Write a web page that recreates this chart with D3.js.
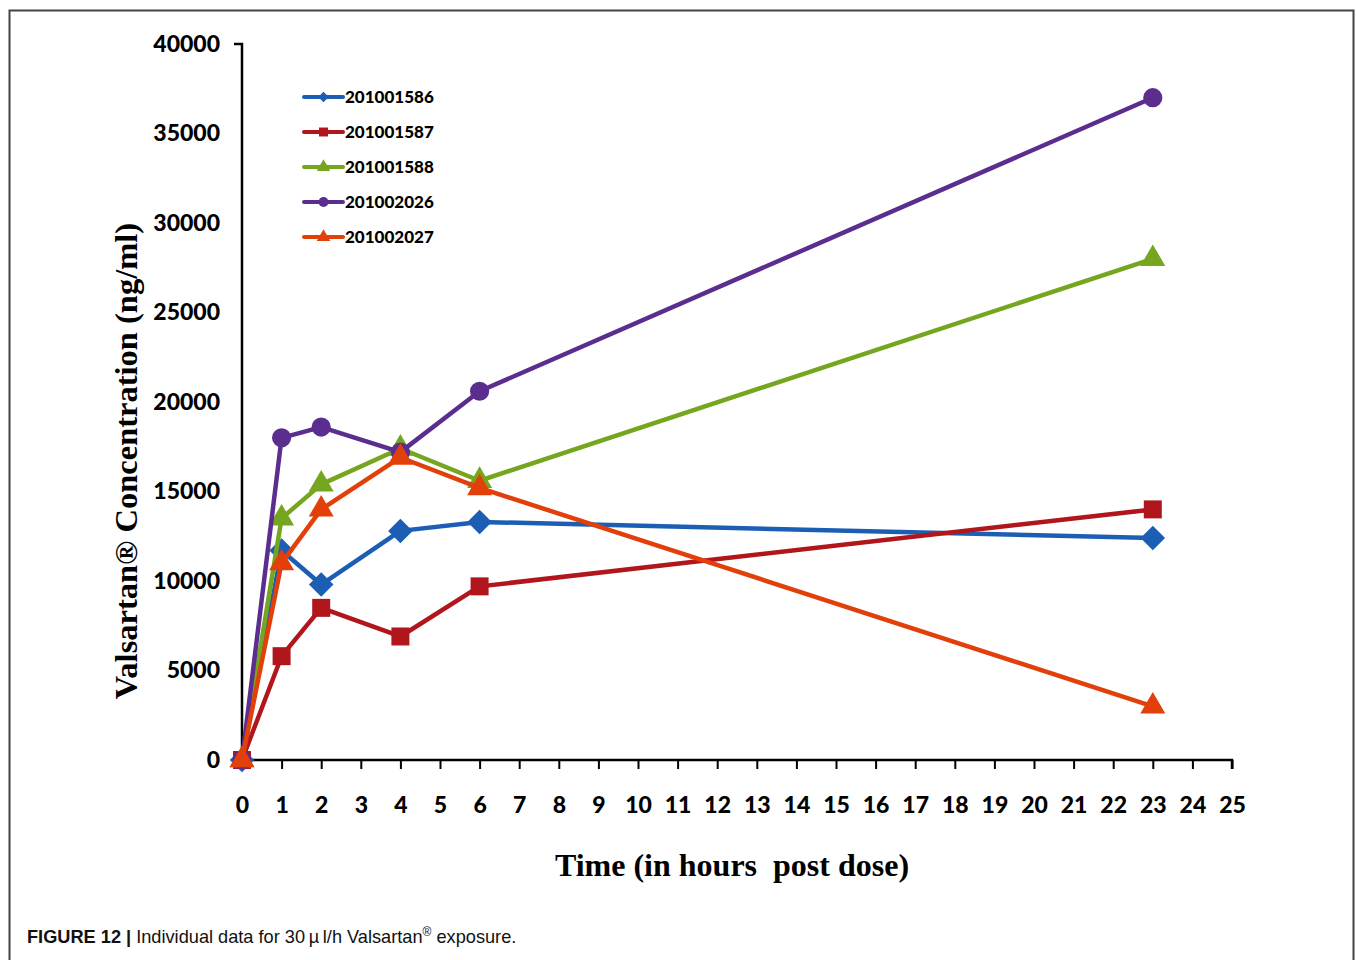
<!DOCTYPE html>
<html>
<head>
<meta charset="utf-8">
<script src="https://cdn.jsdelivr.net/npm/d3@7"></script>
<style>
  body { margin: 0; background: #fff; }
  svg { display: block; }
</style>
</head>
<body>
<script>
// hours post dose
const hours = [0, 1, 2, 4, 6, 23]

const s201001586 = [0, 11700, 9800, 12800, 13300, 12400]
const s201001587 = [0, 5800, 8500, 6900, 9700, 14000]
const s201001588 = [0, 13500, 15400, 17400, 15600, 28000]
const s201002026 = [0, 18000, 18600, 17200, 20600, 37000]
const s201002027 = [0, 11000, 14000, 16900, 15200, 3000]

const seriesNames = ['201001586', '201001587', '201001588', '201002026', '201002027']
const seriesValues = [s201001586, s201001587, s201001588, s201002026, s201002027]
const seriesColors = ['#1b5eb3', '#b0161c', '#76a51f', '#5b2d8e', '#e2400b']
// diamond = square turned 45 degrees
const seriesSymbols = [d3.symbolSquare, d3.symbolSquare, d3.symbolTriangle, d3.symbolCircle, d3.symbolTriangle]
const seriesRotate = [45, 0, 0, 0, 0]

const xTicks = d3.range(0, 26)
const yTicks = [0, 5000, 10000, 15000, 20000, 25000, 30000, 35000, 40000]

const width = 1356, height = 960
const margin = {left: 242, right: 124, top: 44, bottom: 200}

const svg = d3.select('body').append('svg')
  .attr('width', width)
  .attr('height', height)

// frame around the figure
svg.append('path')
  .attr('d', `M9.5,${height} V10.5 H1353.5 V${height}`)
  .attr('fill', 'none')
  .attr('stroke', '#444')
  .attr('stroke-width', 2)

const x = d3.scaleLinear()
  .domain([0, 25])
  .range([margin.left, width - margin.right])

const y = d3.scaleLinear()
  .domain([0, 40000])
  .range([height - margin.bottom, margin.top])

const tickFont = 'Lato, "Open Sans", sans-serif'

const xAxis = g => g
  .attr('transform', `translate(0,${y(0)})`)
  .call(d3.axisBottom(x).tickValues(xTicks).tickSize(9).tickSizeOuter(9).tickPadding(28))
  .call(g => g.select('.domain').attr('stroke-width', 2.5).attr('d', `M${x(0)},0H${x(25)}V9`))
  .call(g => g.selectAll('.tick line').attr('stroke-width', 2))
  .call(g => g.selectAll('.tick text')
    .attr('font-family', tickFont)
    .attr('font-weight', 900)
    .attr('font-size', 23)
    .attr('fill', '#000'))

const yAxis = g => g
  .attr('transform', `translate(${x(0)},0)`)
  .call(d3.axisLeft(y).tickValues(yTicks).tickFormat(d3.format('d')).tickSize(0).tickPadding(22))
  .call(g => g.select('.domain').attr('stroke-width', 2.5).attr('d', `M-8,${y(40000)}H0V${y(0)}`))
  .call(g => g.selectAll('.tick text')
    .attr('font-family', tickFont)
    .attr('font-weight', 900)
    .attr('font-size', 23)
    .attr('fill', '#000'))

svg.append('g').attr('class', 'axis').call(xAxis)
svg.append('g').attr('class', 'axis').call(yAxis)

// axis titles
svg.append('text')
  .attr('x', 732)
  .attr('y', 876)
  .attr('text-anchor', 'middle')
  .attr('font-family', '"Liberation Serif", "Times New Roman", serif')
  .attr('font-weight', 'bold')
  .attr('font-size', 32)
  .text('Time (in hours\u00A0 post dose)')

svg.append('text')
  .attr('transform', `translate(137,461) rotate(-90)`)
  .attr('text-anchor', 'middle')
  .attr('font-family', '"Liberation Serif", "Times New Roman", serif')
  .attr('font-weight', 'bold')
  .attr('font-size', 32.5)
  .text('Valsartan\u00AE Concentration (ng/ml)')

// series
const line = d3.line()
  .x((d, i) => x(hours[i]))
  .y(d => y(d))

const symbolSize = [300, 324, 270, 290, 270]

const series = svg.selectAll('.series')
  .data(seriesNames.map((name, i) => ({name, values: seriesValues[i], color: seriesColors[i],
    symbol: seriesSymbols[i], rot: seriesRotate[i], size: symbolSize[i]})))
  .enter()
  .append('g')
  .attr('class', 'series')

series.append('path')
  .attr('d', d => line(d.values))
  .attr('fill', 'none')
  .attr('stroke', d => d.color)
  .attr('stroke-width', 4.5)
  .attr('stroke-linejoin', 'round')

series.each(function(d) {
  d3.select(this).selectAll('.marker')
    .data(d.values)
    .enter()
    .append('path')
    .attr('class', 'marker')
    .attr('transform', (v, i) => `translate(${x(hours[i])},${y(v)}) rotate(${d.rot})`)
    .attr('d', d3.symbol().type(d.symbol).size(d.size))
    .attr('fill', d.color)
})

// legend
const legend = svg.append('g')
  .attr('transform', 'translate(304,97)')

const legendItem = legend.selectAll('g')
  .data(seriesNames.map((name, i) => ({name, color: seriesColors[i], symbol: seriesSymbols[i], rot: seriesRotate[i]})))
  .enter()
  .append('g')
  .attr('transform', (d, i) => `translate(0,${i * 35})`)

legendItem.append('line')
  .attr('x1', 0)
  .attr('x2', 39)
  .attr('stroke', d => d.color)
  .attr('stroke-width', 4)
  .attr('stroke-linecap', 'round')

legendItem.append('path')
  .attr('transform', d => `translate(19.5,0) rotate(${d.rot})`)
  .attr('d', d => d3.symbol().type(d.symbol).size(d.rot ? 55 : 80)())
  .attr('fill', d => d.color)

legendItem.append('text')
  .attr('x', 41)
  .attr('dy', '0.36em')
  .attr('font-family', tickFont)
  .attr('font-weight', 900)
  .attr('font-size', 17)
  .text(d => d.name)

// caption
const caption = svg.append('text')
  .attr('x', 27)
  .attr('y', 943)
  .attr('font-family', '"Liberation Sans", Arial, sans-serif')
  .attr('font-size', 18.2)
  .attr('fill', '#111')

caption.append('tspan').attr('font-weight', 'bold').text('FIGURE 12 | ')
caption.append('tspan').text('Individual data for 30\u2009\u00B5\u2009l/h Valsartan')
caption.append('tspan').attr('font-size', 12).attr('dy', -7).text('\u00AE')
caption.append('tspan').attr('dy', 7).text(' exposure.')
</script>
</body>
</html>
